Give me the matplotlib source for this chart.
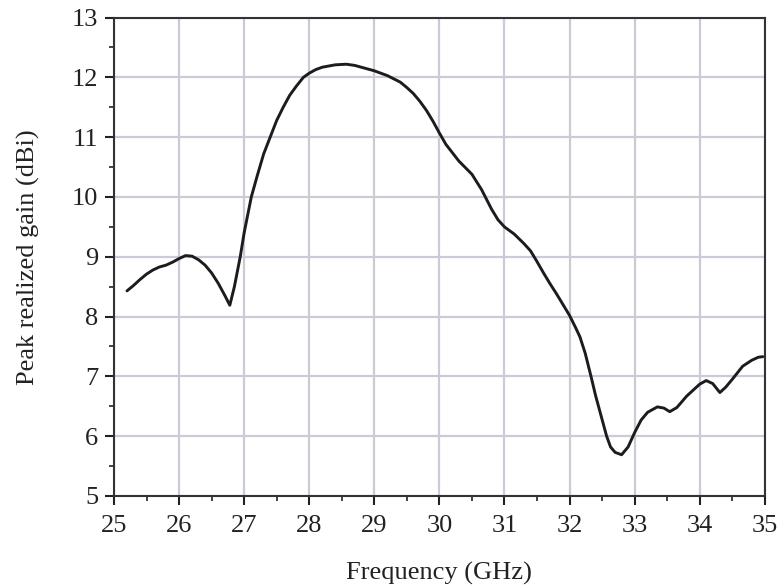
import matplotlib
matplotlib.use("Agg")
import matplotlib.pyplot as plt
from matplotlib.ticker import MultipleLocator

freq = [25.2, 25.3, 25.4, 25.5, 25.6, 25.7, 25.8, 25.9, 26.0, 26.1, 26.2, 26.3, 26.4,
        26.5, 26.6, 26.7, 26.78, 26.85, 26.94, 27.0, 27.11, 27.2, 27.3, 27.4, 27.5,
        27.6, 27.7, 27.8, 27.91, 28.0, 28.1, 28.2, 28.3, 28.4, 28.57, 28.7, 28.8,
        29.0, 29.2, 29.4, 29.5, 29.6, 29.7, 29.8, 29.9, 30.0, 30.1, 30.2, 30.3, 30.5,
        30.65, 30.8, 30.9, 31.0, 31.15, 31.3, 31.4, 31.5, 31.6, 31.7, 31.8, 31.9,
        32.0, 32.1, 32.16, 32.24, 32.33, 32.4, 32.5, 32.57, 32.63, 32.7, 32.8, 32.9,
        33.0, 33.1, 33.2, 33.35, 33.45, 33.54, 33.65, 33.8, 33.9, 34.0, 34.1, 34.2,
        34.31, 34.4, 34.5, 34.66, 34.8, 34.9, 34.97]
gain = [8.43, 8.52, 8.62, 8.71, 8.78, 8.83, 8.86, 8.91, 8.97, 9.02, 9.01, 8.95, 8.86,
        8.73, 8.56, 8.36, 8.19, 8.5, 9.0, 9.4, 10.0, 10.35, 10.72, 11.0, 11.28,
        11.5, 11.7, 11.85, 12.0, 12.07, 12.13, 12.17, 12.19, 12.21, 12.22, 12.2, 12.17,
        12.11, 12.03, 11.92, 11.83, 11.73, 11.6, 11.45, 11.27, 11.07, 10.88, 10.74, 10.6, 10.38,
        10.12, 9.8, 9.62, 9.5, 9.38, 9.22, 9.1, 8.92, 8.73, 8.55, 8.38, 8.2,
        8.02, 7.8, 7.66, 7.39, 7.0, 6.68, 6.28, 6.0, 5.82, 5.73, 5.69, 5.82,
        6.06, 6.27, 6.4, 6.49, 6.47, 6.41, 6.48, 6.67, 6.77, 6.87, 6.93, 6.88,
        6.73, 6.82, 6.95, 7.17, 7.27, 7.32, 7.33]

xticks = [25, 26, 27, 28, 29, 30, 31, 32, 33, 34, 35]
yticks = [5, 6, 7, 8, 9, 10, 11, 12, 13]

plt.rcParams['font.family'] = ['Liberation Serif', 'DejaVu Serif']

fig = plt.figure(figsize=(7.78, 5.86), dpi=100)
ax = fig.add_axes([0.1465, 0.1536, 0.8365, 0.8164])

ax.plot(freq, gain, color='#1c1c1c', lw=2.1, solid_joinstyle='round',
        solid_capstyle='round', zorder=3)

ax.set_xlim(25, 35)
ax.set_ylim(5, 13)
ax.set_xticks(xticks)
ax.set_yticks(yticks)
ax.xaxis.set_minor_locator(MultipleLocator(0.5))
ax.yaxis.set_minor_locator(MultipleLocator(0.5))
ax.grid(True, which='major', color='#c9ccd6', lw=1.6, zorder=0)
ax.tick_params(which='major', direction='out', length=6.5, width=1.5, labelsize=19,
               colors='#222222', pad=5)
ax.tick_params(axis='x', which='major', pad=7)
ax.tick_params(which='minor', direction='out', length=3.5, width=1.2, colors='#222222')
for s in ax.spines.values():
    s.set_color('#333333')
    s.set_linewidth(1.5)

ax.set_xlabel('Frequency (GHz)', fontsize=19, color='#222222', labelpad=18)
ax.set_ylabel('Peak realized gain (dBi)', fontsize=19, color='#222222', labelpad=23)

fig.savefig('out.png', dpi=100, facecolor='white')
